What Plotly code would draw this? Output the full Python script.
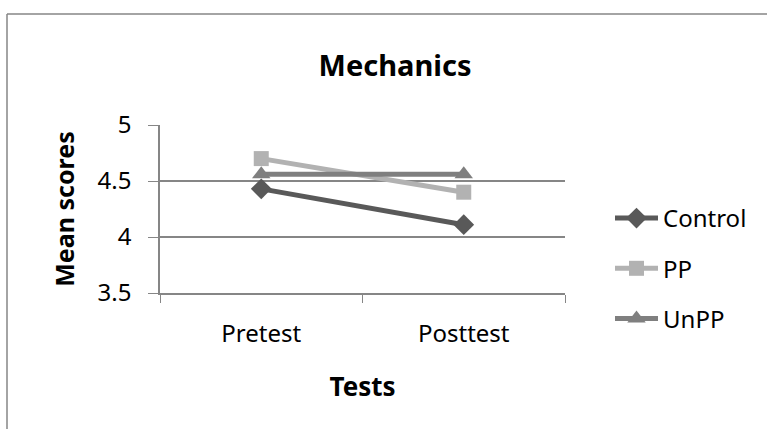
import plotly.graph_objects as go

categories = ["Pretest", "Posttest"]
control = [4.43, 4.11]
pp = [4.70, 4.40]
unpp = [4.56, 4.56]
series_names = ["Control", "PP", "UnPP"]
y_ticks = [3.5, 4, 4.5, 5]
y_tick_labels = ["3.5", "4", "4.5", "5"]

W, H = 767, 429
L, R, T, B = 160, 202, 125, 136
pw, ph = W - L - R, H - T - B
def px(x): return (x - L) / pw
def py(y): return (H - B - y) / ph

font = "Noto Sans"
fig = go.Figure()
styles = [
    (control, "#595959", "diamond", 16),
    (pp, "#b2b2b2", "square", 15),
    (unpp, "#7f7f7f", "triangle-up", 16),
]
for name, (vals, col, sym, sz) in zip(series_names, styles):
    fig.add_trace(go.Scatter(
        x=categories, y=vals, name=name, mode="lines+markers",
        line=dict(color=col, width=5),
        marker=dict(symbol=sym, size=sz, color=col),
        legendgroup=name,
    ))

fig.update_layout(
    width=W, height=H,
    margin=dict(l=L, r=R, t=T, b=B),
    paper_bgcolor="white", plot_bgcolor="white",
    font=dict(family=font, color="#000000", size=24),
    title=dict(text="<b>Mechanics</b>", x=395 / W, xanchor="center",
               y=1 - 66 / H, yanchor="middle", font=dict(size=29)),
    showlegend=True,
    legend=dict(x=px(610), xanchor="left", y=py(196), yanchor="top",
                font=dict(size=24), tracegroupgap=16, bgcolor="rgba(0,0,0,0)",
                itemwidth=43),
    xaxis=dict(type="category", range=[-0.5, 1.5], showgrid=False,
               showline=True, linecolor="#868686", linewidth=1.5,
               ticks="outside", tickson="boundaries", ticklen=8, tickcolor="#868686",
               tickfont=dict(size=24), ticklabelstandoff=18,
               title=dict(text="<b>Tests</b>", font=dict(size=26), standoff=30)),
    yaxis=dict(range=[3.5, 5], tickvals=y_ticks, ticktext=y_tick_labels,
               showgrid=True, gridcolor="#868686", gridwidth=1.5,
               showline=True, linecolor="#868686", linewidth=1.5,
               ticks="outside", ticklen=10, tickcolor="#868686",
               tickfont=dict(size=24), zeroline=False, ticklabelstandoff=12,
               title=dict(text="<b>Mean scores</b>", font=dict(size=25), standoff=16)),
    shapes=[
        dict(type="line", xref="paper", yref="paper", x0=px(7), x1=px(780),
             y0=py(14), y1=py(14), line=dict(color="#868686", width=1.5)),
        dict(type="line", xref="paper", yref="paper", x0=px(7), x1=px(7),
             y0=py(14), y1=py(440), line=dict(color="#868686", width=1.5)),
    ],
)
fig.write_html("out.html", config={"displayModeBar": False},
               post_script="document.body.style.margin='0';document.body.style.overflow='hidden';")
